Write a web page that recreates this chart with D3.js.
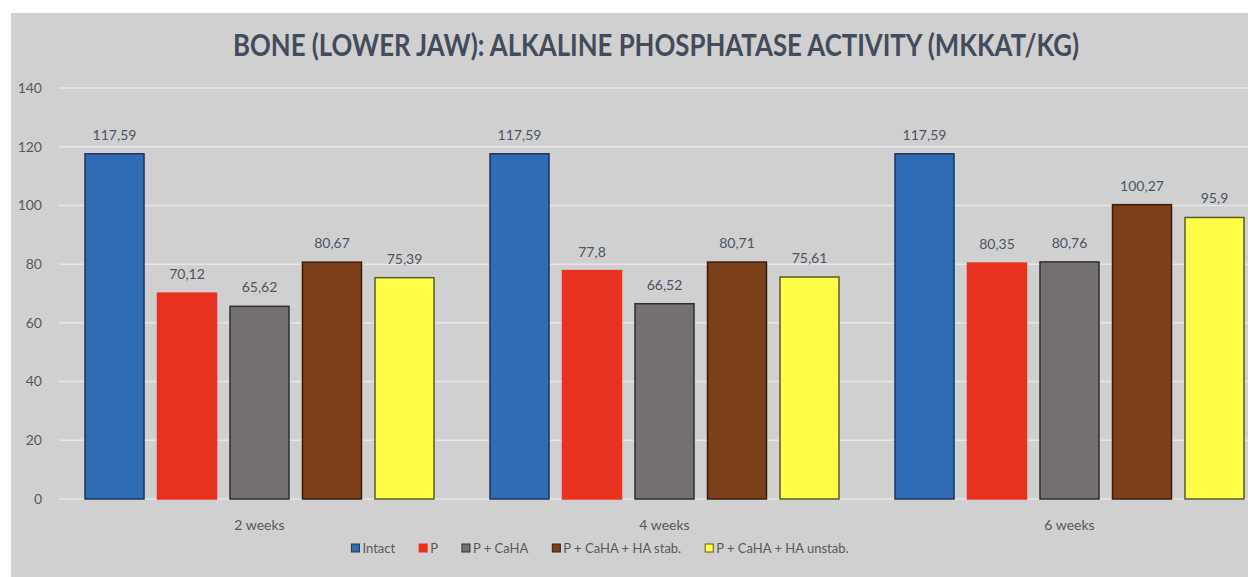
<!DOCTYPE html>
<html>
<head>
<meta charset="utf-8">
<script src="https://cdn.jsdelivr.net/npm/d3@7"></script>
<style>
  html, body { margin: 0; padding: 0; background: #fff; }
  svg { display: block; }
</style>
</head>
<body>
<div id="chart"></div>
<script>
// data
var groups = ["2 weeks", "4 weeks", "6 weeks"];
var series = ["Intact", "P", "P + CaHA", "P + CaHA + HA stab.", "P + CaHA + HA unstab."];
var intact = [117.59, 117.59, 117.59];
var pOnly = [70.12, 77.8, 80.35];
var pCaha = [65.62, 66.52, 80.76];
var haStab = [80.67, 80.71, 100.27];
var haUnstab = [75.39, 75.61, 95.9];
var yTicks = [0, 20, 40, 60, 80, 100, 120, 140];

var fills = ["#2e6db5", "#e8321f", "#767171", "#7b3f19", "#ffff4a"];
var strokes = ["#1d3557", "#e8321f", "#2e2e2e", "#3a1e0c", "#5a5a20"];

var W = 1248, H = 577;
var svg = d3.select("#chart").append("svg").attr("width", W).attr("height", H);

// grey plate
svg.append("rect").attr("x", 11).attr("y", 13).attr("width", W - 11).attr("height", H - 13)
  .attr("fill", "#d0d0d0");

var values = [intact, pOnly, pCaha, haStab, haUnstab];
var rows = [];
groups.forEach(function(g, gi) {
  series.forEach(function(s, si) {
    rows.push({ group: g, series: s, si: si, value: values[si][gi] });
  });
});

var y = d3.scaleLinear().domain([0, 140]).range([499, 88]);
// plot runs off the right edge like in the source picture
var x0 = d3.scaleBand().domain(groups).range([57, 1272]);
var x1 = d3.scaleBand().domain(series).range([28, x0.bandwidth() - 28]).paddingInner(0.186);

// gridlines
svg.append("g").selectAll("line").data(yTicks).enter().append("line")
  .attr("x1", 59).attr("x2", W)
  .attr("y1", function(d) { return y(d); }).attr("y2", function(d) { return y(d); })
  .attr("stroke", "#e6e6e6").attr("stroke-width", 1.5);

// y tick labels
svg.append("g").selectAll("text").data(yTicks).enter().append("text")
  .attr("x", 42).attr("y", function(d) { return y(d); })
  .attr("dy", "0.35em").attr("text-anchor", "end")
  .attr("font-family", "Lato, sans-serif").attr("font-size", 14).attr("fill", "#595959")
  .text(function(d) { return d; });

// bars
svg.append("g").selectAll("rect").data(rows).enter().append("rect")
  .attr("x", function(d) { return x0(d.group) + x1(d.series); })
  .attr("y", function(d) { return y(d.value); })
  .attr("width", x1.bandwidth())
  .attr("height", function(d) { return y(0) - y(d.value); })
  .attr("fill", function(d) { return fills[d.si]; })
  .attr("stroke", function(d) { return strokes[d.si]; })
  .attr("stroke-width", 1.5);

// value labels, comma decimals
svg.append("g").selectAll("text").data(rows).enter().append("text")
  .attr("x", function(d) { return x0(d.group) + x1(d.series) + x1.bandwidth() / 2; })
  .attr("y", function(d) { return y(d.value) - 14; })
  .attr("text-anchor", "middle")
  .attr("font-family", "Lato, sans-serif").attr("font-size", 14).attr("fill", "#4a5566")
  .text(function(d) { return String(d.value).replace(".", ","); });

// x axis labels
svg.append("g").selectAll("text").data(groups).enter().append("text")
  .attr("x", function(d) { return x0(d) + x0.bandwidth() / 2; })
  .attr("y", 530)
  .attr("text-anchor", "middle")
  .attr("font-family", "Lato, sans-serif").attr("font-size", 14).attr("fill", "#595959")
  .text(function(d) { return d; });

// title
svg.append("text")
  .attr("x", 656).attr("y", 56)
  .attr("text-anchor", "middle")
  .attr("font-family", "Lato, sans-serif").attr("font-weight", "bold")
  .attr("font-size", 30).attr("fill", "#434c5c")
  .attr("textLength", 846).attr("lengthAdjust", "spacingAndGlyphs")
  .text("BONE (LOWER JAW): ALKALINE PHOSPHATASE ACTIVITY (MKKAT/KG)");

// legend
var legend = svg.append("g");
var lx = 0;
series.forEach(function(s, i) {
  var item = legend.append("g").attr("transform", "translate(" + lx + ",0)");
  item.append("rect").attr("x", 0).attr("y", -4).attr("width", 8).attr("height", 8)
    .attr("fill", fills[i]).attr("stroke", strokes[i]).attr("stroke-width", 1);
  var t = item.append("text").attr("x", 11).attr("dy", "0.35em")
    .attr("font-family", "Lato, sans-serif").attr("font-size", 13).attr("fill", "#595959")
    .text(s);
  lx += 11 + t.node().getComputedTextLength() + 24;
});
lx -= 24;
legend.attr("transform", "translate(" + (600 - lx / 2) + ",548)");
</script>
</body>
</html>
